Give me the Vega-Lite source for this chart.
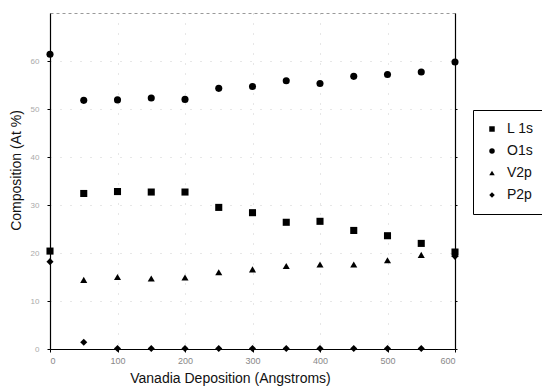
{
  "$schema": "https://vega.github.io/schema/vega-lite/v6.json",
  "width": 405,
  "height": 336,
  "autosize": "none",
  "padding": {"left": 50, "top": 13, "right": 87, "bottom": 40},
  "background": "white",
  "config": {
    "font": "Liberation Sans",
    "view": {"stroke": null}
  },
  "data": {
    "values": [
      {"x": 0, "s": "L 1s", "v": 20.4},
      {"x": 50, "s": "L 1s", "v": 32.4},
      {"x": 100, "s": "L 1s", "v": 32.8},
      {"x": 150, "s": "L 1s", "v": 32.7},
      {"x": 200, "s": "L 1s", "v": 32.7},
      {"x": 250, "s": "L 1s", "v": 29.5},
      {"x": 300, "s": "L 1s", "v": 28.4},
      {"x": 350, "s": "L 1s", "v": 26.4},
      {"x": 400, "s": "L 1s", "v": 26.6},
      {"x": 450, "s": "L 1s", "v": 24.7},
      {"x": 500, "s": "L 1s", "v": 23.6},
      {"x": 550, "s": "L 1s", "v": 22.0},
      {"x": 600, "s": "L 1s", "v": 20.2},
      {"x": 0, "s": "O1s", "v": 61.4},
      {"x": 50, "s": "O1s", "v": 51.8},
      {"x": 100, "s": "O1s", "v": 51.9},
      {"x": 150, "s": "O1s", "v": 52.3},
      {"x": 200, "s": "O1s", "v": 52.0},
      {"x": 250, "s": "O1s", "v": 54.3},
      {"x": 300, "s": "O1s", "v": 54.7},
      {"x": 350, "s": "O1s", "v": 55.9},
      {"x": 400, "s": "O1s", "v": 55.3},
      {"x": 450, "s": "O1s", "v": 56.8},
      {"x": 500, "s": "O1s", "v": 57.2},
      {"x": 550, "s": "O1s", "v": 57.7},
      {"x": 600, "s": "O1s", "v": 59.8},
      {"x": 50, "s": "V2p", "v": 14.4},
      {"x": 100, "s": "V2p", "v": 15.0},
      {"x": 150, "s": "V2p", "v": 14.7},
      {"x": 200, "s": "V2p", "v": 14.9},
      {"x": 250, "s": "V2p", "v": 16.0},
      {"x": 300, "s": "V2p", "v": 16.6},
      {"x": 350, "s": "V2p", "v": 17.3},
      {"x": 400, "s": "V2p", "v": 17.6},
      {"x": 450, "s": "V2p", "v": 17.6},
      {"x": 500, "s": "V2p", "v": 18.5},
      {"x": 550, "s": "V2p", "v": 19.6},
      {"x": 600, "s": "V2p", "v": 19.8},
      {"x": 0, "s": "P2p", "v": 18.2},
      {"x": 50, "s": "P2p", "v": 1.4},
      {"x": 100, "s": "P2p", "v": 0.1},
      {"x": 150, "s": "P2p", "v": 0.1},
      {"x": 200, "s": "P2p", "v": 0.1},
      {"x": 250, "s": "P2p", "v": 0.1},
      {"x": 300, "s": "P2p", "v": 0.1},
      {"x": 350, "s": "P2p", "v": 0.1},
      {"x": 400, "s": "P2p", "v": 0.1},
      {"x": 450, "s": "P2p", "v": 0.1},
      {"x": 500, "s": "P2p", "v": 0.1},
      {"x": 550, "s": "P2p", "v": 0.1},
      {"x": 600, "s": "P2p", "v": 19.3}
    ]
  },
  "layer": [
    {
      "mark": {"type": "point", "filled": true, "opacity": 1, "size": 50},
      "encoding": {
        "x": {
          "field": "x", "type": "quantitative",
          "scale": {"domain": [0, 600], "nice": false},
          "axis": {
            "values": [0, 100, 200, 300, 400, 500, 600],
            "title": "Vanadia Deposition (Angstroms)",
            "titleFontSize": 14, "titleFontWeight": "normal", "titleColor": "#111",
            "titleX": 180, "titleY": 22, "titleBaseline": "top",
            "labelFontSize": 9, "labelColor": "#888", "labelPadding": 4,
            "domainColor": "#000", "domainWidth": 1.2,
            "tickColor": "#000", "tickSize": 3,
            "grid": true, "gridColor": "#bbb", "gridDash": [1, 9], "gridOpacity": 0.7
          }
        },
        "y": {
          "field": "v", "type": "quantitative",
          "scale": {"domain": [0, 70], "nice": false},
          "axis": {
            "values": [0, 10, 20, 30, 40, 50, 60],
            "title": "Composition (At %)",
            "titleFontSize": 14, "titleFontWeight": "normal", "titleColor": "#111",
            "titleX": -34, "titleY": 157, "titleAngle": 270, "titleBaseline": "middle", "titleAlign": "center",
            "labelFontSize": 8, "labelColor": "#aaa", "labelPadding": 8,
            "domainColor": "#000", "domainWidth": 1.2,
            "tickColor": "#000", "tickSize": 3,
            "grid": true, "gridColor": "#bbb", "gridDash": [1, 9], "gridOpacity": 0.7
          }
        },
        "shape": {
          "field": "s", "type": "nominal",
          "scale": {"domain": ["L 1s", "O1s", "V2p", "P2p"], "range": ["square", "circle", "triangle-up", "diamond"]},
          "legend": {
            "orient": "none", "legendX": 423, "legendY": 97,
            "title": null, "strokeColor": "#000", "padding": 12,
            "labelFontSize": 14, "labelColor": "#111", "rowPadding": 8,
            "symbolFillColor": "#000", "symbolStrokeColor": "#000", "symbolSize": 30, "labelOffset": 8
          }
        },
        "color": {"value": "#000"}
      }
    },
    {
      "mark": {"type": "point", "opacity": 0},
      "encoding": {
        "x": {
          "field": "x", "type": "quantitative",
          "scale": {"domain": [0, 600], "nice": false},
          "axis": {"orient": "top", "title": null, "labels": false, "ticks": false, "grid": false, "domainColor": "#999", "domainDash": [3, 3]}
        },
        "y": {
          "field": "v", "type": "quantitative",
          "scale": {"domain": [0, 70], "nice": false},
          "axis": {"orient": "right", "title": null, "labels": false, "ticks": true, "tickSize": 2, "tickColor": "#000", "values": [0, 10, 20, 30, 40, 50, 60], "grid": false, "domainColor": "#000", "domainWidth": 1.2}
        }
      }
    }
  ],
  "resolve": {"axis": {"x": "independent", "y": "independent"}, "scale": {"x": "shared", "y": "shared"}}
}
